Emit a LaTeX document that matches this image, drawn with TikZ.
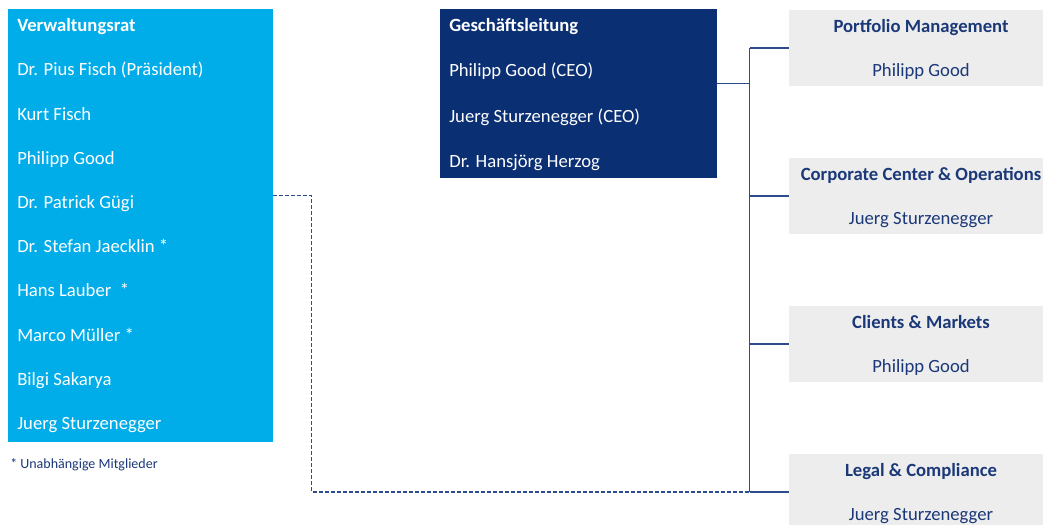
\documentclass[tikz,border=0pt]{standalone}
\usepackage{fontspec}
\setmainfont{Carlito}
\definecolor{vrblue}{HTML}{00ADE9}
\definecolor{glblue}{HTML}{0A2F73}
\definecolor{boxgray}{HTML}{EDEDED}
\definecolor{navytext}{HTML}{1B3878}
\definecolor{linecol}{HTML}{2C4C8C}
\tikzset{
  vrbox/.style={fill=vrblue, draw=none, anchor=north west, inner sep=0pt, outer sep=0pt, minimum width=198.75pt, minimum height=324.75pt},
  glbox/.style={fill=glblue, draw=none, anchor=north west, inner sep=0pt, outer sep=0pt, minimum width=207.75pt, minimum height=126.75pt},
  unitbox/.style={fill=boxgray, draw=none, anchor=north west, inner sep=0pt, outer sep=0pt, minimum width=198pt, minimum height=57pt},
  wtext/.style={text=white, anchor=base west, inner sep=0pt, font=\fontsize{14}{16}\selectfont},
  utext/.style={text=navytext, anchor=base, inner sep=0pt, font=\fontsize{14}{16}\selectfont},
  foot/.style={text=navytext, anchor=base west, inner sep=0pt, font=\fontsize{10.5}{12}\selectfont},
  conn/.style={draw=linecol, line width=1.1pt},
  dconn/.style={draw=linecol, line width=0.9pt, dash pattern=on 3pt off 1.5pt}
}
\begin{document}
\begin{tikzpicture}[x=0.75pt,y=-0.75pt]
\clip (0,0) rectangle (1043,525);
\fill[white] (0,0) rectangle (1043,525);
% Verwaltungsrat
\node[vrbox] (vr) at (8,9) {};
\node[wtext] (vr0) at (17,31.7) {\bfseries Verwaltungsrat};
\node[wtext] (vr1) at (17,75.9) {Dr. Pius Fisch (Präsident)};
\node[wtext] (vr2) at (17,120.1) {Kurt Fisch};
\node[wtext] (vr3) at (17,164.3) {Philipp Good};
\node[wtext] (vr4) at (17,208.5) {Dr. Patrick Gügi};
\node[wtext] (vr5) at (17,252.7) {Dr. Stefan Jaecklin *};
\node[wtext] (vr6) at (17,296.9) {Hans Lauber\ \ *};
\node[wtext] (vr7) at (17,341.1) {Marco Müller *};
\node[wtext] (vr8) at (17,385.3) {Bilgi Sakarya};
\node[wtext] (vr9) at (17,429.5) {Juerg Sturzenegger};
\node[foot] (fn) at (10,468) {* Unabhängige Mitglieder};
% Geschaeftsleitung
\node[glbox] (gl) at (440,9) {};
\node[wtext] (gl0) at (449,31.7) {\bfseries Geschäftsleitung};
\node[wtext] (gl1) at (449,76.7) {Philipp Good (CEO)};
\node[wtext] (gl2) at (449,122.2) {Juerg Sturzenegger (CEO)};
\node[wtext] (gl3) at (449,167.7) {Dr. Hansjörg Herzog};
% Units
\node[unitbox] (pm) at (789,10) {};
\node[utext] (pm0) at (921,32.5) {\bfseries Portfolio Management};
\node[utext] (pm1) at (921,76) {Philipp Good};
\node[unitbox] (cc) at (789,158) {};
\node[utext] (cc0) at (921,180.5) {\bfseries Corporate Center \& Operations};
\node[utext] (cc1) at (921,224) {Juerg Sturzenegger};
\node[unitbox] (cm) at (789,306) {};
\node[utext] (cm0) at (921,328.5) {\bfseries Clients \& Markets};
\node[utext] (cm1) at (921,372) {Philipp Good};
\node[unitbox] (lc) at (789,454) {};
\node[utext] (lc0) at (921,476.5) {\bfseries Legal \& Compliance};
\node[utext] (lc1) at (921,520) {Juerg Sturzenegger};
% connectors
\coordinate (bus) at (749.5,0);
\coordinate (glout) at (717,83.3);
\coordinate (vrout) at (273,195.7);
\draw[dconn] (vrout) -- (311.7,195.7) |- (lc.west -| bus);
\draw[conn] (glout) -- (glout -| bus);
\draw[conn] (pm.west -| bus) -- (lc.west -| bus);
\draw[conn] (pm.west -| bus) -- (pm.west);
\draw[conn] (cc.west -| bus) -- (cc.west);
\draw[conn] (cm.west -| bus) -- (cm.west);
\draw[conn] (lc.west -| bus) -- (lc.west);
\end{tikzpicture}
\end{document}
